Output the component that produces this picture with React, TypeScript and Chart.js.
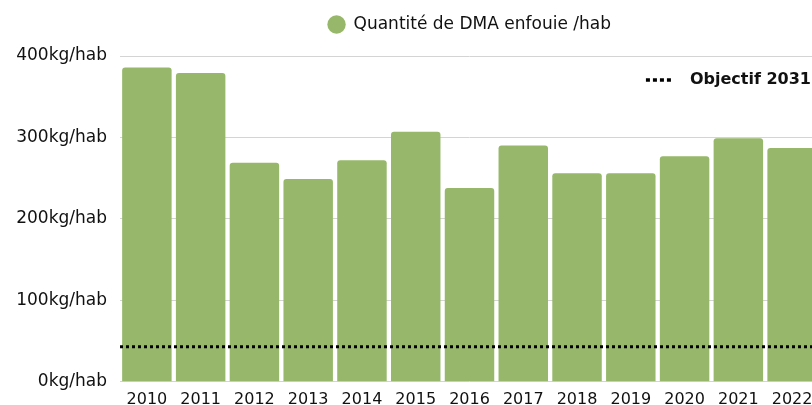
import React, { useEffect, useRef } from 'react';
import { Chart, registerables } from 'chart.js';

Chart.register(...registerables);

const years = ['2010', '2011', '2012', '2013', '2014', '2015', '2016', '2017', '2018', '2019', '2020', '2021', '2022'];
const buriedPerHab = [386, 379, 269, 249, 272, 307, 238, 290, 256, 256, 277, 299, 287];
const objective2031 = 43;
const yTickValues = [0, 100, 200, 300, 400];
const seriesLabel = 'Quantité de DMA enfouie /hab';
const objectiveLabel = 'Objectif 2031';
const tickUnit = 'kg/hab';

const BAR_COLOR = '#97b86a';
const TEXT_COLOR = '#111111';
const FONT = '"DejaVu Sans", sans-serif';

const legendSpacer = {
  id: 'legendSpacer',
  beforeLayout(chart: any) {
    const legend = chart.legend;
    if (legend && !legend.__spaced) {
      const fit = legend.fit;
      legend.fit = function () {
        fit.call(this);
        this.height += 13;
      };
      legend.__spaced = true;
    }
  },
};

const objectivePlugin = {
  id: 'objectiveLine',
  afterDatasetsDraw(chart: any) {
    const { ctx, chartArea, scales } = chart;
    const y = scales.y.getPixelForValue(objective2031);
    ctx.save();
    ctx.strokeStyle = '#000000';
    ctx.lineWidth = 3;
    ctx.setLineDash([3, 3]);
    ctx.beginPath();
    ctx.moveTo(chartArea.left, y);
    ctx.lineTo(chartArea.right, y);
    ctx.stroke();

    ctx.font = `bold 16px ${FONT}`;
    ctx.fillStyle = TEXT_COLOR;
    ctx.textAlign = 'right';
    ctx.textBaseline = 'middle';
    const tx = chartArea.right - 8;
    const ty = chartArea.top + 24;
    ctx.fillText(objectiveLabel, tx, ty);
    const w = ctx.measureText(objectiveLabel).width;
    const sx2 = tx - w - 17;
    const sx1 = sx2 - 27;
    ctx.setLineDash([4, 3]);
    ctx.lineWidth = 3.5;
    ctx.beginPath();
    ctx.moveTo(sx1, ty);
    ctx.lineTo(sx2, ty);
    ctx.stroke();
    ctx.restore();
  },
};

export default function App() {
  const canvasRef = useRef<HTMLCanvasElement | null>(null);

  useEffect(() => {
    if (!canvasRef.current) return;
    const chart = new Chart(canvasRef.current, {
      type: 'bar',
      data: {
        labels: years,
        datasets: [
          {
            label: seriesLabel,
            data: buriedPerHab,
            backgroundColor: BAR_COLOR,
            borderWidth: 0,
            borderRadius: 3,
            barPercentage: 0.92,
            categoryPercentage: 1,
          },
        ],
      },
      options: {
        responsive: false,
        animation: false,
        layout: { padding: { top: 2, right: 11, bottom: 3, left: 0 } },
        plugins: {
          legend: {
            display: true,
            position: 'top',
            fullSize: false,
            labels: {
              usePointStyle: true,
              pointStyle: 'circle',
              boxWidth: 18,
              boxHeight: 13,
              padding: 14,
              color: TEXT_COLOR,
              font: { family: FONT, size: 17 },
            },
          },
          tooltip: { enabled: false },
        },
        scales: {
          x: {
            grid: { display: false, drawTicks: false },
            border: { display: false },
            ticks: { color: TEXT_COLOR, padding: 8, font: { family: FONT, size: 16 } },
          },
          y: {
            min: 0,
            max: 400,
            afterFit: (s: any) => {
              s.width = 120;
            },
            afterBuildTicks: (s: any) => {
              s.ticks = yTickValues.map((v) => ({ value: v }));
            },
            grid: { color: '#d4d4d4', lineWidth: 1, drawTicks: false },
            border: { display: false },
            ticks: {
              color: TEXT_COLOR,
              padding: 13,
              font: { family: FONT, size: 17 },
              callback: (v: any) => `${v}${tickUnit}`,
            },
          },
        },
      },
      plugins: [legendSpacer, objectivePlugin],
    });
    return () => chart.destroy();
  }, []);

  return (
    <div style={{ position: 'fixed', left: 0, top: 0, width: 812, height: 405, overflow: 'hidden', background: '#fff' }}>
      <canvas ref={canvasRef} width={830} height={420} style={{ display: 'block', width: 830, height: 420 }} />
    </div>
  );
}
